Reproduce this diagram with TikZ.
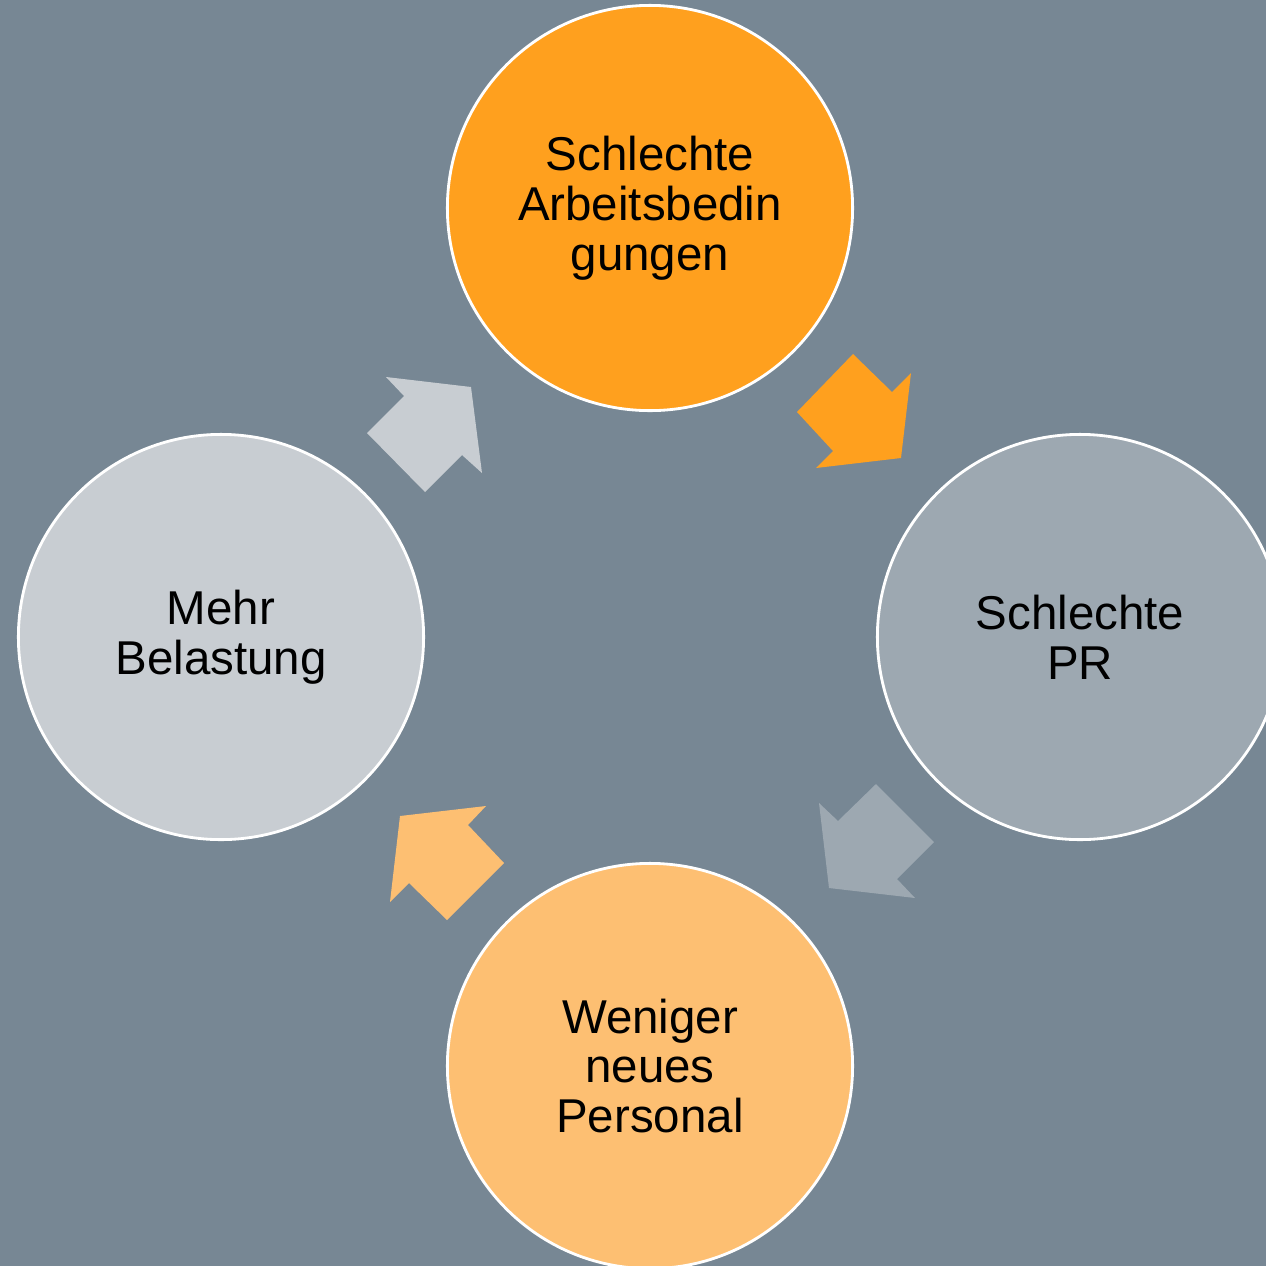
\documentclass[tikz,border=0pt]{standalone}
\usepackage{fontspec}
\setmainfont{Liberation Sans}
\usepackage{tikz}
\usetikzlibrary{positioning}

\definecolor{bgslate}{RGB}{119,135,148}
\definecolor{topor}{RGB}{255,160,30}
\definecolor{prgray}{RGB}{157,168,177}
\definecolor{lightor}{RGB}{253,191,114}
\definecolor{lightgray}{RGB}{200,205,210}

\begin{document}
\begin{tikzpicture}[
    x=0.01cm, y=-0.01cm,
    stage/.style={circle, draw=white, line width=0.8pt, minimum size=4.05cm, inner sep=0pt, align=center,
        font=\fontsize{13.5pt}{14.2pt}\selectfont},
    bigarrow/.style={draw=none}
]
\clip (0,0) rectangle (1266,1266);
\fill[bgslate] (0,0) rectangle (1266,1266);

\node[stage, fill=topor] (work) at (650,208) {Schlechte\\Arbeitsbedin\\gungen};
\node[stage, fill=prgray] (pr) at (1080,637) {Schlechte\\PR};
\node[stage, fill=lightor] (staff) at (650,1066) {Weniger\\neues\\Personal};
\node[stage, fill=lightgray] (load) at (221,637) {Mehr\\Belastung};

% arrows between the stages
\fill[bigarrow, topor] (853,354) -- (892,392) -- (911,373) -- (901,458) -- (816,468) -- (833,451) -- (797,412) -- cycle;
\fill[bigarrow, prgray] (876,784) -- (934,842) -- (897,879) -- (915,898) -- (829,888) -- (819,803) -- (838,821) -- cycle;
\fill[bigarrow, lightor] (486,806) -- (468,825) -- (504,863) -- (447,920) -- (409,883) -- (390,902) -- (400,816) -- cycle;
\fill[bigarrow, lightgray] (386,377) -- (471,387) -- (482,473) -- (462,455) -- (425,492) -- (367,433) -- (404,396) -- cycle;
\end{tikzpicture}
\end{document}
